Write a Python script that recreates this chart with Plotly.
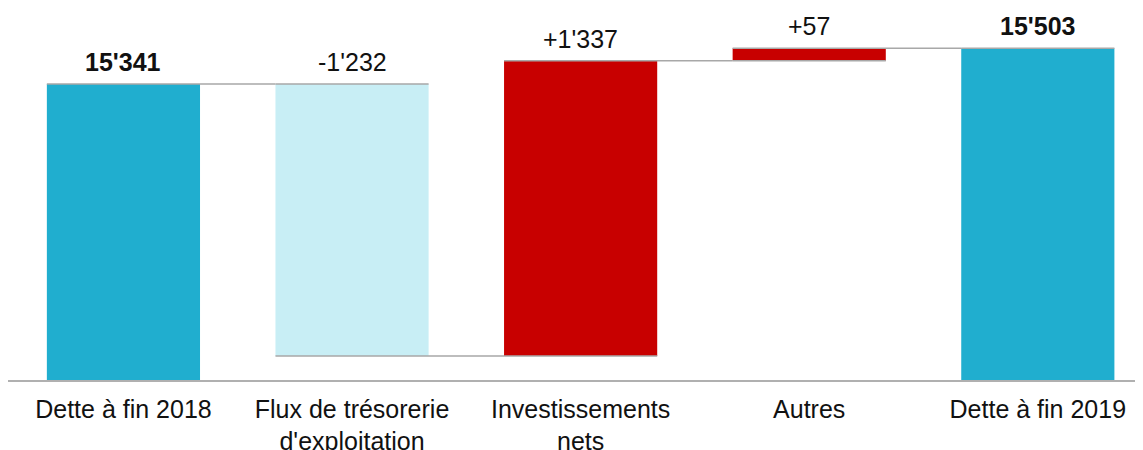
import plotly.graph_objects as go

categories = ["Dette à fin 2018", "Flux de trésorerie<br>d'exploitation",
              "Investissements<br>nets", "Autres", "Dette à fin 2019"]
values = [15341, -1232, 1337, 57, 15503]
measures = ["absolute", "relative", "relative", "relative", "total"]
labels = ["<b>15'341</b>", "-1'232", "+1'337", "+57", "<b>15'503</b>"]

FONT = "Liberation Sans, Arial, sans-serif"

fig = go.Figure(go.Waterfall(
    x=categories, y=values, measure=measures,
    totals=dict(marker=dict(color="#20AECF")),
    increasing=dict(marker=dict(color="#C80000")),
    decreasing=dict(marker=dict(color="#C8EEF5")),
    connector=dict(mode="spanning", line=dict(color="#A8A8A8", width=1.5)),
    textposition="none",
    hoverinfo="skip",
))

# label positions derived from the data (top of each bar)
cum = 0
tops = []
for v, m in zip(values, measures):
    if m == "absolute" or m == "total":
        cum = v
        tops.append(v)
    else:
        start = cum
        cum = cum + v
        tops.append(max(start, cum))

for c, t, lab in zip(categories, tops, labels):
    fig.add_annotation(x=c, y=t, text=lab, showarrow=False, yanchor="bottom",
                       yshift=6, font=dict(family=FONT, size=25, color="#111111"))

fig.update_layout(
    width=1135, height=442,
    margin=dict(l=0, r=3, t=0, b=70),
    plot_bgcolor="white", paper_bgcolor="white",
    waterfallgap=0.33,
    showlegend=False,
    font=dict(family=FONT, size=25, color="#111111"),
)
fig.update_xaxes(type="category", range=[-0.505, 4.447], showline=True,
                 linecolor="#B0B0B0", linewidth=1.5, showgrid=False,
                 ticks="", ticklabelstandoff=6, automargin=False,
                 tickfont=dict(family=FONT, size=25, color="#111111"))
fig.update_yaxes(range=[14000, 15685], visible=False, showgrid=False,
                 automargin=False)

fig.write_html("out.html")
